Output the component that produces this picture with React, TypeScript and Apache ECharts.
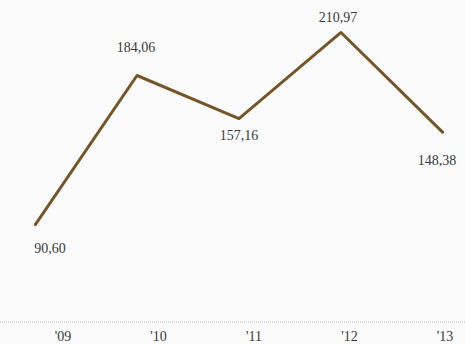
import React, { useEffect, useRef } from "react";
import * as echarts from "echarts";

const years = ["'09", "'10", "'11", "'12", "'13"];
const values = [90.6, 184.06, 157.16, 210.97, 148.38];
const labelOffsets: [number, number][] = [[15, 23], [-1, -28], [0, 17], [-3, -15], [-6, 28]];

export default function App() {
  const ref = useRef<HTMLDivElement>(null);
  useEffect(() => {
    if (!ref.current) return;
    const chart = echarts.init(ref.current, null, { renderer: "svg" });
    const font = "'Liberation Serif', 'DejaVu Serif', serif";
    chart.setOption({
      animation: false,
      backgroundColor: "#fbfbfb",
      grid: [
        { left: 35, right: 22, top: 2, bottom: 22 },
        { left: 63, right: 20, top: 2, bottom: 22 },
      ],
      xAxis: [
        {
          type: "category",
          gridIndex: 0,
          data: years,
          boundaryGap: false,
          axisLine: { show: false },
          axisTick: { show: false },
          axisLabel: { show: false },
          splitLine: { show: false },
        },
        {
          type: "category",
          gridIndex: 1,
          data: years,
          boundaryGap: false,
          axisLine: { show: false },
          axisTick: { show: false },
          splitLine: { show: false },
          axisLabel: { color: "#3a3a3a", fontFamily: font, fontSize: 14, margin: 7 },
        },
      ],
      yAxis: [
        { type: "value", gridIndex: 0, min: 30, max: 230, show: false },
        { type: "value", gridIndex: 1, min: 30, max: 230, show: false },
      ],
      graphic: [
        {
          type: "line",
          shape: { x1: 0, y1: 322, x2: 465, y2: 322 },
          style: { stroke: "#b8b8b8", lineWidth: 1, lineDash: [1, 1] },
        },
      ],
      series: [
        {
          type: "line",
          xAxisIndex: 0,
          yAxisIndex: 0,
          data: values.map((v, i) => ({
            value: v,
            label: { offset: labelOffsets[i] },
          })),
          symbol: "circle",
          symbolSize: 2,
          showSymbol: true,
          itemStyle: { color: "#745628" },
          lineStyle: { color: "#745628", width: 3 },
          label: {
            show: true,
            position: "inside",
            color: "#3a3a3a",
            fontFamily: font,
            fontSize: 14,
            formatter: (p: any) => Number(p.value).toFixed(2).replace(".", ","),
          },
        },
      ],
    });
    return () => chart.dispose();
  }, []);
  return <div ref={ref} style={{ width: 465, height: 344, position: "absolute", left: 0, top: 0 }} />;
}
